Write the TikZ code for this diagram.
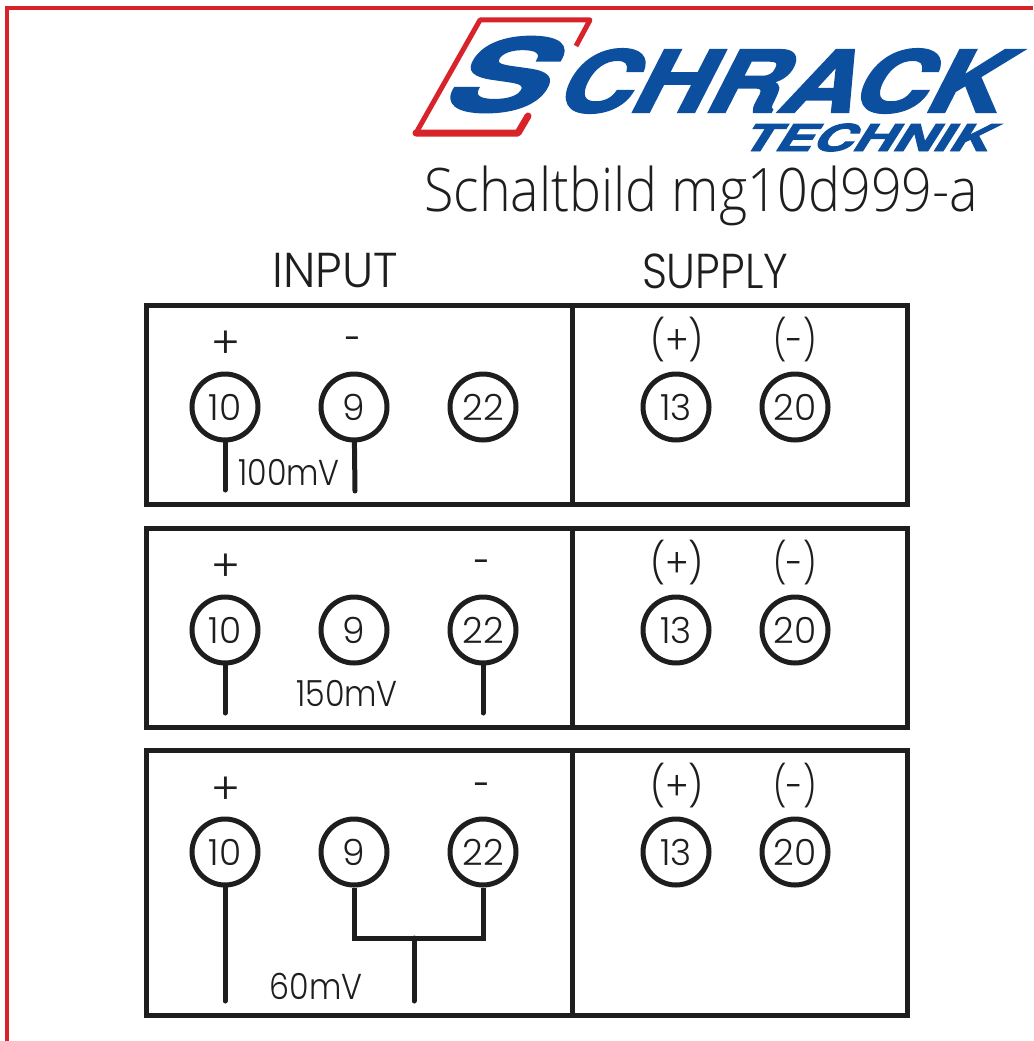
\documentclass[tikz,border=0pt]{standalone}
\usepackage{fontspec}
\setmainfont{Poppins Light}
\newfontfamily\titlefont{Open Sans Light}
\newfontfamily\logofont[BoldFeatures={FakeSlant=.42,FakeBold=2.5}]{TeX Gyre Heros}
\definecolor{frameRed}{HTML}{D8232A}
\definecolor{logoBlue}{HTML}{0B4F9E}
\definecolor{ink}{HTML}{1E1E1E}
\tikzset{
  panel/.style={draw=ink,line width=5pt,line join=miter},
  term/.style={circle,draw=ink,line width=5pt,minimum size=66pt,inner sep=0pt,text=ink},
  num/.style={font=\fontsize{36}{36}\selectfont},
  wire/.style={draw=ink,line width=5pt,line join=miter,line cap=round},
  lab/.style={inner sep=0pt,text=ink,font=\fontsize{44}{44}\selectfont},
  neg/.style={inner sep=0pt,text=ink,font=\fontsize{44}{44}\selectfont,xscale=.7},
  par/.style={inner sep=0pt,text=ink,font=\fontsize{40}{40}\selectfont,xscale=.9},
  parneg/.style={inner sep=0pt,text=ink,font=\fontsize{40}{40}\selectfont,xscale=.8},
  head/.style={inner sep=0pt,text=ink,font=\fontsize{49}{49}\selectfont,xscale=.89},
  volt/.style={inner sep=0pt,text=ink,font=\fontsize{36}{36}\selectfont,xscale=.88},
  logoA/.style={inner sep=0pt,text=logoBlue,anchor=base west}
}
\begin{document}
\begin{tikzpicture}[x=1pt,y=-1pt]
\useasboundingbox (0,0) rectangle (1033,1041);
\fill[white] (0,0) rectangle (1033,1041);
% red frame
\draw[frameRed,line width=3.2pt] (7,1041) -- (7,8) -- (1033,8);
% logo red outline
\draw[frameRed,line width=5pt,line join=round] (576,46) -- (590,20) -- (480,20) -- (416,133);
\draw[frameRed,line width=7pt,line join=round,line cap=round] (416,133) -- (518,133) -- (528,116);
% logo text
\node[logoA,font=\logofont\bfseries\fontsize{100}{100}\selectfont,xscale=1.5] (s) at (436,111) {S};
\node[logoA,font=\logofont\bfseries\fontsize{85}{85}\selectfont,xscale=1.215] (chrack) at (551,112) {CHRACK};
\node[logoA,font=\logofont\bfseries\fontsize{37}{37}\selectfont,xscale=1.51] (technik) at (738,151) {TECHNIK};
\node[inner sep=0pt,anchor=base west,text=ink,font=\titlefont\fontsize{60}{60}\selectfont,xscale=.896] (title) at (424,211) {Schaltbild mg10d999-a};
\node[head,xscale=1.08] (input) at (335,271) {INPUT};
\node[head] (supply) at (715,271) {SUPPLY};
% panel 1
\draw[panel] (146,305) rectangle (907,504);
\draw[panel] (572,305) -- (572,504);
\node[lab] (p1) at (226,345) {+};
\node[neg] (m1) at (353,346) {-};
\node[term,num] (a10) at (225,407) {10};
\node[term,num] (a9) at (354,407) {9};
\node[term,num] (a22) at (483,407) {22};
\node[term,num] (a13) at (676,407) {13};
\node[term,num] (a20) at (795,407) {20};
\node[par] (sp1) at (677,340) {(+)};
\node[parneg] (sm1) at (795,340) {(-)};
\coordinate (e1a) at (225,490);
\coordinate (e1b) at (355,491);
\draw[wire] (a10) -- (e1a);
\draw[wire] (a9) -- (e1b);
\node[volt] (v1) at (289,472) {100mV};
% panel 2
\draw[panel] (146,528) rectangle (907,727);
\draw[panel] (572,528) -- (572,727);
\node[lab] (p2) at (226,568) {+};
\node[neg] (m2) at (482,569) {-};
\node[term,num] (b10) at (225,630) {10};
\node[term,num] (b9) at (354,630) {9};
\node[term,num] (b22) at (483,630) {22};
\node[term,num] (b13) at (676,630) {13};
\node[term,num] (b20) at (795,630) {20};
\node[par] (sp2) at (677,563) {(+)};
\node[parneg] (sm2) at (795,563) {(-)};
\coordinate (e2a) at (225,713);
\coordinate (e2b) at (483,713);
\draw[wire] (b10) -- (e2a);
\draw[wire] (b22) -- (e2b);
\node[volt] (v2) at (347,693) {150mV};
% panel 3
\draw[panel] (146,750) rectangle (907,1015);
\draw[panel] (572,750) -- (572,1015);
\node[lab] (p3) at (226,791) {+};
\node[neg] (m3) at (482,792) {-};
\node[term,num] (c10) at (225,852) {10};
\node[term,num] (c9) at (354,852) {9};
\node[term,num] (c22) at (483,852) {22};
\node[term,num] (c13) at (676,852) {13};
\node[term,num] (c20) at (795,852) {20};
\node[par] (sp3) at (677,786) {(+)};
\node[parneg] (sm3) at (795,786) {(-)};
\coordinate (e3a) at (225,1001);
\coordinate (e3b) at (414,1001);
\coordinate (j) at (414,938);
\draw[wire] (c10) -- (e3a);
\draw[wire,line cap=butt] (c9.south) -- (354,938) -- (483,938) -- (c22.south);
\draw[wire] (j) -- (e3b);
\node[volt] (v3) at (316,986) {60mV};
\end{tikzpicture}
\end{document}
